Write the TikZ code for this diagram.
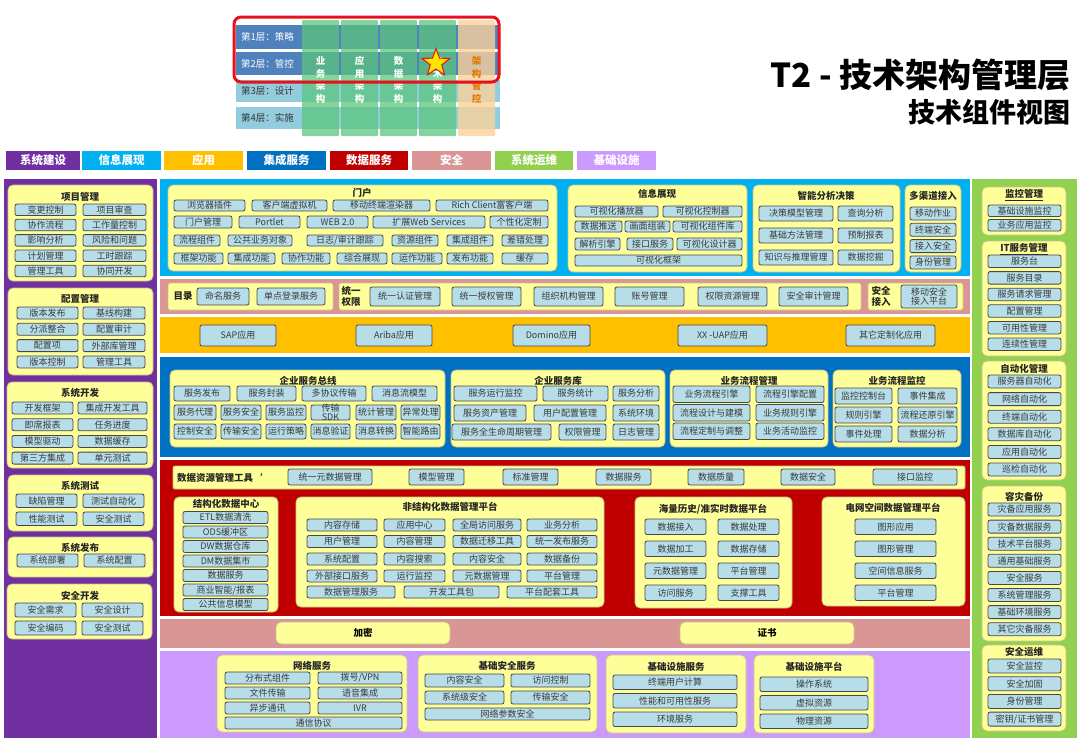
\documentclass[tikz,border=0pt]{standalone}
\usepackage{fontspec}
\setmainfont{Noto Sans CJK SC}
\usetikzlibrary{shapes.geometric}
\definecolor{sysbuild}{HTML}{7030A0}
\definecolor{infoshow}{HTML}{00B0F0}
\definecolor{appcol}{HTML}{FFC000}
\definecolor{integ}{HTML}{0070C0}
\definecolor{datasrv}{HTML}{C00000}
\definecolor{secur}{HTML}{D99694}
\definecolor{sysops}{HTML}{92D050}
\definecolor{infra}{HTML}{CC99FF}
\definecolor{panelfill}{HTML}{FFFF99}
\definecolor{panelline}{HTML}{C9C28A}
\definecolor{itemfill}{HTML}{B7DDE8}
\definecolor{itemline}{HTML}{474747}
\definecolor{textgrey}{HTML}{3A3A3A}
\definecolor{layerdark}{HTML}{4F81BD}
\definecolor{layerlight}{HTML}{93CDDD}
\definecolor{colgreen}{HTML}{5CC57E}
\definecolor{colorange}{HTML}{FAD29A}
\definecolor{ctrlorange}{HTML}{E07B00}
\definecolor{framered}{HTML}{E8101A}
\definecolor{staryellow}{HTML}{FFE500}

% box between corners (x1,y1) and (x2,y2), pixel units
\newcommand{\cellbox}[7][item]{%
  \node[#1, minimum width={#5-#3}, minimum height={#6-#4}] (#2) at ({(#3+#5)/2},{(#4+#6)/2}) {#7};}

\begin{document}
\begin{tikzpicture}[x=1pt, y=-1pt,
  item/.style={draw=itemline, fill=itemfill, line width=0.8pt, rounded corners=2pt, inner sep=0pt, text=textgrey, font=\fontsize{9}{9.5}\selectfont},
  panel/.style={draw=panelline, fill=panelfill, line width=0.8pt, rounded corners=5pt, inner sep=0pt},
  ptitle/.style={inner sep=0pt, text=black!85, font=\fontsize{9.5}{10.5}\selectfont\bfseries},
  catbox/.style={minimum height=19pt, inner sep=0pt, text=white, font=\fontsize{11.5}{12}\selectfont\bfseries},
  layertxt/.style={anchor=west, inner sep=0pt, font=\fontsize{9.5}{10}\selectfont},
  coltxt/.style={align=center, inner sep=0pt, text=white, font=\fontsize{9.5}{12.5}\selectfont\bfseries}]
\useasboundingbox (0,0) rectangle (1080,748);

% === header: layers x views ===
\fill[layerdark] (236,25) rectangle (500,49);
\fill[layerdark] (236,52) rectangle (500,75);
\fill[layerlight] (236,80) rectangle (500,102);
\fill[layerlight] (236,107) rectangle (500,129);
\node[layertxt, text=white] (lay1) at (241,37) {第1层：策略};
\node[layertxt, text=white] (lay2) at (241,63.5) {第2层：管控};
\node[layertxt, text=black!80] (lay3) at (241,91) {第3层：设计};
\node[layertxt, text=black!80] (lay4) at (241,118) {第4层：实施};
\foreach \x in {302,341,380,419}
  \fill[colgreen, opacity=.75, rounded corners=1pt] (\x,20) rectangle ++(37,116);
\fill[colorange, opacity=.8, rounded corners=1pt] (458,20) rectangle (495,136);
\node[coltxt] (col1) at (320.5,80) {业\\务\\架\\构};
\node[coltxt] (col2) at (359.5,80) {应\\用\\架\\构};
\node[coltxt] (col3) at (398.5,80) {数\\据\\架\\构};
\node[coltxt] (col4) at (437.5,80) {技\\术\\架\\构};
\node[coltxt, text=ctrlorange] (col5) at (476.5,80) {架\\构\\管\\控};
\node[star, star points=5, star point ratio=2.4, minimum size=29pt, inner sep=0pt,
  fill=staryellow, draw=framered, line width=1pt] (star) at (436,63) {};
\draw[framered, line width=3pt, rounded corners=7pt] (234,17) rectangle (499,82);

% title
\node[anchor=east, inner sep=0pt, font=\fontsize{33}{35}\selectfont\bfseries] (title) at (1071,75) {T2 - 技术架构管理层};
\node[anchor=east, inner sep=0pt, font=\fontsize{27}{29}\selectfont\bfseries] (subtitle) at (1071,112) {技术组件视图};

% === category legend ===
\foreach \x/\w/\c/\t [count=\i] in {6/74/sysbuild/系统建设, 82/79/infoshow/信息展现, 164/79/appcol/应用,
    247/79/integ/集成服务, 330/78/datasrv/数据服务, 412/79/secur/安全, 495/78/sysops/系统运维, 577/79/infra/基础设施}
  \node[catbox, fill=\c, minimum width=\w] (cat-\i) at (\x+\w/2,160.5) {\t};

% === bands ===
\fill[sysbuild] (4,179) rectangle (157,738);
\fill[sysops] (972,179) rectangle (1077,738);
\fill[infoshow] (160,179) rectangle (970,276);
\fill[secur] (160,279) rectangle (970,314);
\fill[appcol] (160,317) rectangle (970,353);
\fill[integ] (160,357) rectangle (970,457);
\fill[datasrv] (160,460) rectangle (970,616);
\fill[secur] (160,619) rectangle (970,648);
\fill[infra] (160,651) rectangle (970,738);

% === left column: system construction ===
\cellbox[panel]{pm}{8}{185}{153}{281}{}
\node[ptitle] (pm-t) at (80,197) {项目管理};
\foreach \a/\b [count=\i] in {变更控制/项目审查, 协作流程/工作量控制, 影响分析/风险和问题, 计划管理/工时跟踪, 管理工具/协同开发} {
  \pgfmathsetmacro\yy{204+(\i-1)*15.3}
  \cellbox{pm-\i-a}{15}{\yy}{76}{\yy+11.5}{\a}
  \cellbox{pm-\i-b}{83}{\yy}{146}{\yy+11.5}{\b}
}
\cellbox[panel]{cm}{8}{288}{153}{375}{}
\node[ptitle] (cm-t) at (80,299) {配置管理};
\foreach \a/\b [count=\i] in {版本发布/基线构建, 分派整合/配置审计, 配置项/外部库管理, 版本控制/管理工具} {
  \pgfmathsetmacro\yy{307+(\i-1)*16.3}
  \cellbox{cm-\i-a}{17}{\yy}{78}{\yy+12}{\a}
  \cellbox{cm-\i-b}{83}{\yy}{145}{\yy+12}{\b}
}
\cellbox[panel]{dev}{7}{382}{153}{468}{}
\node[ptitle] (dev-t) at (80,393) {系统开发};
\foreach \a/\b [count=\i] in {开发框架/集成开发工具, 即席报表/任务进度, 模型驱动/数据缓存, 第三方集成/单元测试} {
  \pgfmathsetmacro\yy{402+(\i-1)*16.7}
  \cellbox{dev-\i-a}{12}{\yy}{73}{\yy+12}{\a}
  \cellbox{dev-\i-b}{78}{\yy}{147}{\yy+12}{\b}
}
\cellbox[panel]{tst}{8}{475}{153}{531}{}
\node[ptitle] (tst-t) at (80,486) {系统测试};
\foreach \a/\b [count=\i] in {缺陷管理/测试自动化, 性能测试/安全测试} {
  \pgfmathsetmacro\yy{494+(\i-1)*18}
  \cellbox{tst-\i-a}{16}{\yy}{77}{\yy+13.5}{\a}
  \cellbox{tst-\i-b}{83}{\yy}{144}{\yy+13.5}{\b}
}
\cellbox[panel]{rel}{8}{537}{153}{577}{}
\node[ptitle] (rel-t) at (80,547.5) {系统发布};
\cellbox{rel-a}{17}{554}{78}{567}{系统部署}
\cellbox{rel-b}{84}{554}{145}{567}{系统配置}
\cellbox[panel]{sdv}{7}{584}{152}{639}{}
\node[ptitle] (sdv-t) at (80,596) {安全开发};
\foreach \a/\b [count=\i] in {安全需求/安全设计, 安全编码/安全测试} {
  \pgfmathsetmacro\yy{603+(\i-1)*18}
  \cellbox{sdv-\i-a}{15}{\yy}{76}{\yy+14}{\a}
  \cellbox{sdv-\i-b}{82}{\yy}{143}{\yy+14}{\b}
}

% === right column: operations ===
\cellbox[panel]{mon}{982}{187}{1066}{235}{}
\node[ptitle] (mon-t) at (1024,195) {\underline{监控管理}};
\foreach \t [count=\i] in {基础设施监控, 业务应用监控} {
  \pgfmathsetmacro\yy{205+(\i-1)*14.5}
  \cellbox{mon-\i}{988}{\yy}{1061}{\yy+11.5}{\t}
}
\cellbox[panel]{itsm}{982}{241}{1066}{356}{}
\node[ptitle] (itsm-t) at (1024,249) {\underline{IT服务管理}};
\foreach \t [count=\i] in {服务台, 服务目录, 服务请求管理, 配置管理, 可用性管理, 连续性管理} {
  \pgfmathsetmacro\yy{255+(\i-1)*16.6}
  \cellbox{itsm-\i}{988}{\yy}{1061}{\yy+12.5}{\t}
}
\cellbox[panel]{auto}{982}{361}{1066}{480}{}
\node[ptitle] (auto-t) at (1024,369) {自动化管理};
\foreach \t [count=\i] in {服务器自动化, 网络自动化, 终端自动化, 数据库自动化, 应用自动化, 巡检自动化} {
  \pgfmathsetmacro\yy{375+(\i-1)*17.6}
  \cellbox{auto-\i}{988}{\yy}{1061}{\yy+13}{\t}
}
\cellbox[panel]{dr}{982}{486}{1066}{641}{}
\node[ptitle] (dr-t) at (1024,497) {容灾备份};
\foreach \t [count=\i] in {灾备应用服务, 灾备数据服务, 技术平台服务, 通用基础服务, 安全服务, 系统管理服务, 基础环境服务, 其它灾备服务} {
  \pgfmathsetmacro\yy{503+(\i-1)*17.1}
  \cellbox{dr-\i}{988}{\yy}{1061}{\yy+13}{\t}
}
\cellbox[panel]{sop}{982}{645}{1066}{731}{}
\node[ptitle] (sop-t) at (1024,652) {安全运维};
\foreach \t [count=\i] in {安全监控, 安全加固, 身份管理, 密钥\slash 证书管理} {
  \pgfmathsetmacro\yy{659+(\i-1)*17.7}
  \cellbox{sop-\i}{988}{\yy}{1061}{\yy+14}{\t}
}

% === information presentation ===
\cellbox[panel]{portal}{168}{185}{557}{271}{}
\node[ptitle] (portal-t) at (362,193) {门户};
\foreach \a/\b/\t [count=\i] in {174/245/浏览器插件, 252/327/客户端虚拟机, 333/430/移动终端渲染器, 436/548/Rich Client富客户端}
  \cellbox{po1-\i}{\a}{200}{\b}{211}{\t};
\foreach \a/\b/\t [count=\i] in {174/232/门户管理, 239/300/Portlet, 307/368/WEB 2.0, 373/485/扩展Web Services, 490/548/个性化定制}
  \cellbox{po2-\i}{\a}{216}{\b}{228}{\t};
\foreach \a/\b/\t [count=\i] in {174/220/流程组件, 228/292/公共业务对象, 307/383/日志\slash 审计跟踪, 392/438/资源组件, 447/493/集成组件, 502/548/差错处理}
  \cellbox{po3-\i}{\a}{235}{\b}{246}{\t};
\foreach \a/\b/\t [count=\i] in {174/223/框架功能, 228/275/集成功能, 282/330/协作功能, 337/387/综合展现, 392/442/运作功能, 447/493/发布功能, 502/548/缓存}
  \cellbox{po4-\i}{\a}{253}{\b}{264}{\t};

\cellbox[panel]{vis}{568}{185}{747}{272}{}
\node[ptitle] (vis-t) at (657,194) {信息展现};
\cellbox{vis-1}{575}{206}{658}{217}{可视化播放器}
\cellbox{vis-2}{663}{206}{742}{217}{可视化控制器}
\cellbox{vis-3}{575}{221}{622}{232}{数据推送}
\cellbox{vis-4}{625}{221}{670}{232}{画面组装}
\cellbox{vis-5}{673}{221}{742}{232}{可视化组件库}
\cellbox{vis-6}{575}{238}{620}{250}{解析引擎}
\cellbox{vis-7}{627}{238}{673}{250}{接口服务}
\cellbox{vis-8}{677}{238}{742}{250}{可视化设计器}
\cellbox{vis-9}{575}{255}{742}{266}{可视化框架}

\cellbox[panel]{bi}{753}{185}{900}{272}{}
\node[ptitle] (bi-t) at (826,196) {智能分析决策};
\foreach \a/\b [count=\i] in {决策模型管理/查询分析, 基础方法管理/预制报表, 知识与推理管理/数据挖掘} {
  \pgfmathsetmacro\yy{206+(\i-1)*22}
  \cellbox{bi-\i-a}{759}{\yy}{833}{\yy+15}{\a}
  \cellbox{bi-\i-b}{838}{\yy}{893}{\yy+15}{\b}
}
\cellbox[panel]{mc}{905}{185}{961}{272}{}
\node[ptitle] (mc-t) at (933,196) {多渠道接入};
\foreach \t [count=\i] in {移动作业, 终端安全, 接入安全, 身份管理} {
  \pgfmathsetmacro\yy{207+(\i-1)*16.3}
  \cellbox{mc-\i}{910}{\yy}{956}{\yy+13}{\t}
}

% === security strip ===
\cellbox[panel, rounded corners=2pt]{dir}{168}{283}{333}{310}{}
\node[ptitle] (dir-t) at (183,296.5) {目录};
\cellbox{dir-1}{197}{288}{249}{305}{命名服务}
\cellbox{dir-2}{257}{288}{325}{305}{单点登录服务}
\cellbox[panel, rounded corners=2pt]{auth}{339}{283}{861}{310}{}
\node[ptitle, align=center] (auth-t) at (351,296.5) {统一\\权限};
\foreach \a/\b/\t [count=\i] in {370/440/统一认证管理, 452/521/统一授权管理, 534/603/组织机构管理, 615/684/账号管理, 698/767/权限资源管理, 779/848/安全审计管理}
  \cellbox{auth-\i}{\a}{287}{\b}{306}{\t};
\cellbox[panel, rounded corners=2pt]{sacc}{868}{283}{963}{310}{}
\node[ptitle, align=center] (sacc-t) at (881,296.5) {安全\\接入};
\cellbox[item, align=center]{sacc-1}{901}{285}{957}{308}{移动安全\\接入平台}

% === applications ===
\foreach \a/\b/\t [count=\i] in {200/276/SAP应用, 356/432/Ariba应用, 513/590/Domino应用, 678/767/XX -UAP应用, 846/935/其它定制化应用}
  \cellbox{app-\i}{\a}{325}{\b}{346}{\t};

% === integration services ===
\cellbox[panel]{esb}{170}{370}{445}{447}{}
\node[ptitle] (esb-t) at (308,381) {企业服务总线};
\foreach \a/\b/\t [count=\i] in {174/230/服务发布, 237/296/服务封装, 302/366/多协议传输, 372/437/消息流模型}
  \cellbox{esb1-\i}{\a}{386}{\b}{401}{\t};
\foreach \a/\b/\t [count=\i] in {174/216/服务代理, 221/261/服务安全, 266/306/服务监控, 311/350/, 356/396/统计管理, 401/440/异常处理}
  \cellbox{esb2-\i}{\a}{405}{\b}{420}{\t};
\node[inner sep=0pt, align=center, text=textgrey, font=\fontsize{9}{9.5}\selectfont] (sdk) at (esb2-4) {传输\\SDK};
\foreach \a/\b/\t [count=\i] in {174/216/控制安全, 221/261/传输安全, 266/306/运行策略, 311/350/消息验证, 356/396/消息转换, 401/440/智能路由}
  \cellbox{esb3-\i}{\a}{424}{\b}{439}{\t};

\cellbox[panel]{esr}{451}{370}{665}{447}{}
\node[ptitle] (esr-t) at (558,381) {企业服务库};
\foreach \a/\b/\t [count=\i] in {454/537/服务运行监控, 543/608/服务统计, 613/659/服务分析}
  \cellbox{esr1-\i}{\a}{386}{\b}{401}{\t};
\foreach \a/\b/\t [count=\i] in {454/526/服务资产管理, 534/606/用户配置管理, 613/659/系统环境}
  \cellbox{esr2-\i}{\a}{405}{\b}{421}{\t};
\foreach \a/\b/\t [count=\i] in {452/551/服务全生命周期管理, 559/606/权限管理, 613/659/日志管理}
  \cellbox{esr3-\i}{\a}{424}{\b}{440}{\t};

\cellbox[panel]{bpm}{670}{370}{828}{447}{}
\node[ptitle] (bpm-t) at (749,381) {业务流程管理};
\foreach \a/\b [count=\i] in {业务流程引擎/流程引擎配置, 流程设计与建模/业务规则引擎, 流程定制与调整/业务活动监控} {
  \pgfmathsetmacro\yy{386+(\i-1)*18.5}
  \cellbox{bpm-\i-a}{673}{\yy}{750}{\yy+16.5}{\a}
  \cellbox{bpm-\i-b}{756}{\yy}{824}{\yy+16.5}{\b}
}
\cellbox[panel]{bam}{833}{370}{961}{447}{}
\node[ptitle] (bam-t) at (897,381) {业务流程监控};
\foreach \a/\b [count=\i] in {监控控制台/事件集成, 规则引擎/流程还原引擎, 事件处理/数据分析} {
  \pgfmathsetmacro\yy{388+(\i-1)*19}
  \cellbox{bam-\i-a}{835}{\yy}{892}{\yy+16}{\a}
  \cellbox{bam-\i-b}{898}{\yy}{957}{\yy+16}{\b}
}

% === data services ===
\cellbox[panel, rounded corners=2pt]{drm}{173}{466}{965}{489}{}
\node[ptitle, anchor=west] (drm-t) at (177,477.5) {数据资源管理工具`};
\foreach \a/\b/\t [count=\i] in {288/372/统一元数据管理, 409/464/模型管理, 503/558/标准管理, 596/651/数据服务, 688/744/数据质量, 781/835/数据安全, 873/957/接口监控}
  \cellbox{drm-\i}{\a}{469}{\b}{485}{\t};

\cellbox[panel]{sdc}{174}{497}{278}{612}{}
\node[ptitle] (sdc-t) at (226,504) {结构化数据中心};
\foreach \t [count=\i] in {ETL数据清洗, ODS缓冲区, DW数据仓库, DM数据集市, 数据服务, 商业智能\slash 报表, 公共信息模型} {
  \pgfmathsetmacro\yy{511.5+(\i-1)*14.5}
  \cellbox{sdc-\i}{183}{\yy}{268}{\yy+12}{\t}
}

\cellbox[panel]{udm}{296}{497}{604}{607}{}
\node[ptitle] (udm-t) at (450,507) {非结构化数据管理平台};
\foreach \a/\b/\t [count=\i] in {307/377/内容存储, 384/445/应用中心, 453/521/全局访问服务, 527/597/业务分析}
  \cellbox{udm1-\i}{\a}{519}{\b}{531}{\t};
\foreach \a/\b/\t [count=\i] in {307/377/用户管理, 384/445/内容管理, 453/521/数据迁移工具, 527/597/统一发布服务}
  \cellbox{udm2-\i}{\a}{535.5}{\b}{547.5}{\t};
\foreach \a/\b/\t [count=\i] in {307/377/系统配置, 384/445/内容搜索, 453/521/内容安全, 527/597/数据备份}
  \cellbox{udm3-\i}{\a}{553}{\b}{565}{\t};
\foreach \a/\b/\t [count=\i] in {307/377/外部接口服务, 384/445/运行监控, 453/521/元数据管理, 527/597/平台管理}
  \cellbox{udm4-\i}{\a}{570}{\b}{582}{\t};
\foreach \a/\b/\t [count=\i] in {307/395/数据管理服务, 404/499/开发工具包, 507/597/平台配套工具}
  \cellbox{udm5-\i}{\a}{586}{\b}{598}{\t};

\cellbox[panel]{hist}{635}{497}{792}{608}{}
\node[ptitle] (hist-t) at (713,509) {海量历史\slash 准实时数据平台};
\foreach \a/\b [count=\i] in {数据接入/数据处理, 数据加工/数据存储, 元数据管理/平台管理, 访问服务/支撑工具} {
  \pgfmathsetmacro\yy{519+(\i-1)*22}
  \cellbox{hist-\i-a}{645}{\yy}{706}{\yy+15.5}{\a}
  \cellbox{hist-\i-b}{718}{\yy}{779}{\yy+15.5}{\b}
}
\cellbox[panel]{gis}{822}{497}{965}{606}{}
\node[ptitle] (gis-t) at (893,508) {电网空间数据管理平台};
\foreach \t [count=\i] in {图形应用, 图形管理, 空间信息服务, 平台管理} {
  \pgfmathsetmacro\yy{519+(\i-1)*22}
  \cellbox{gis-\i}{855}{\yy}{936}{\yy+15.5}{\t}
}

% === security: encryption / certificate ===
\cellbox[panel, font=\fontsize{9.5}{10.5}\selectfont\bfseries]{enc}{276}{622}{450}{644}{加密}
\cellbox[panel, font=\fontsize{9.5}{10.5}\selectfont\bfseries]{cert}{680}{622}{854}{644}{证书}

% === infrastructure ===
\cellbox[panel]{net}{217}{655}{407}{732}{}
\node[ptitle] (net-t) at (312,666) {网络服务};
\foreach \a/\b [count=\i] in {分布式组件/拨号\slash VPN, 文件传输/语音集成, 异步通讯/IVR} {
  \pgfmathsetmacro\yy{672+(\i-1)*15}
  \cellbox{net-\i-a}{225}{\yy}{310}{\yy+12}{\a}
  \cellbox{net-\i-b}{318}{\yy}{402}{\yy+12}{\b}
}
\cellbox{net-4}{225}{717}{402}{729}{通信协议}
\cellbox[panel]{bss}{418}{655}{597}{732}{}
\node[ptitle] (bss-t) at (507,666) {基础安全服务};
\cellbox{bss-1}{425}{674}{504}{687}{内容安全}
\cellbox{bss-2}{511}{674}{590}{687}{访问控制}
\cellbox{bss-3}{425}{691}{504}{704}{系统级安全}
\cellbox{bss-4}{511}{691}{590}{704}{传输安全}
\cellbox{bss-5}{425}{708}{590}{720}{网络参数安全}
\cellbox[panel]{ifs}{606}{655}{746}{733}{}
\node[ptitle] (ifs-t) at (676,667) {基础设施服务};
\foreach \t [count=\i] in {终端用户计算, 性能和可用性服务, 环境服务} {
  \pgfmathsetmacro\yy{675+(\i-1)*18.5}
  \cellbox{ifs-\i}{613}{\yy}{737}{\yy+14.5}{\t}
}
\cellbox[panel]{ifp}{754}{655}{874}{733}{}
\node[ptitle] (ifp-t) at (814,667) {基础设施平台};
\foreach \t [count=\i] in {操作系统, 虚拟资源, 物理资源} {
  \pgfmathsetmacro\yy{677+(\i-1)*18.5}
  \cellbox{ifp-\i}{760}{\yy}{868}{\yy+14.5}{\t}
}
\end{tikzpicture}
\end{document}
